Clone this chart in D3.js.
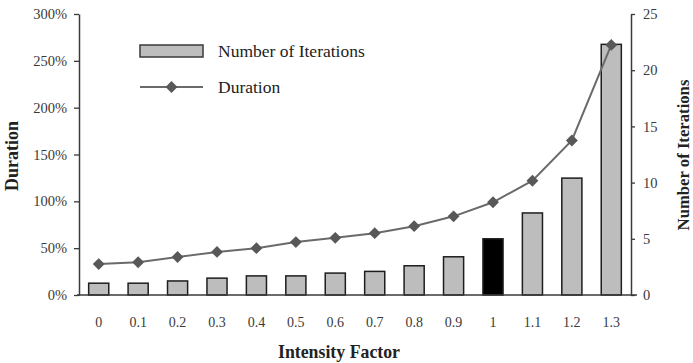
<!DOCTYPE html>
<html>
<head>
<meta charset="utf-8">
<script src="https://cdn.jsdelivr.net/npm/d3@7"></script>
<style>
  body { margin: 0; background: #fff; }
  svg { display: block; font-family: "Liberation Serif", "Times New Roman", serif; }
</style>
</head>
<body>
<svg></svg>
<script>
var width = 693;
var height = 363;

// data
var factors = ["0", "0.1", "0.2", "0.3", "0.4", "0.5", "0.6", "0.7", "0.8", "0.9", "1", "1.1", "1.2", "1.3"];
var iterations = [1.05, 1.05, 1.25, 1.5, 1.7, 1.7, 1.95, 2.1, 2.6, 3.4, 5.0, 7.3, 10.4, 22.3];
var duration = [33, 35, 40.5, 46, 50, 56.5, 61, 66, 73.5, 84, 99, 122, 165, 267];
var durTicks = [0, 50, 100, 150, 200, 250, 300];
var iterTicks = [0, 5, 10, 15, 20, 25];
var highlight = "1";

var plotLeft = 79, plotRight = 631, plotTop = 14, plotBottom = 295;

var svg = d3.select("svg")
  .attr("width", width)
  .attr("height", height);

var x = d3.scaleBand()
  .domain(factors)
  .range([plotLeft, plotRight])
  .paddingInner(0.49)
  .paddingOuter(0.245);

var yDur = d3.scaleLinear().domain([0, 300]).range([plotBottom, plotTop]);
var yIt = d3.scaleLinear().domain([0, 25]).range([plotBottom, plotTop]);

// bars
svg.selectAll("rect.bar")
  .data(iterations)
  .enter()
  .append("rect")
  .attr("class", "bar")
  .attr("x", (d, i) => x(factors[i]))
  .attr("width", x.bandwidth())
  .attr("y", d => yIt(d))
  .attr("height", d => plotBottom - yIt(d))
  .attr("fill", (d, i) => factors[i] === highlight ? "#000" : "#bdbdbd")
  .attr("stroke", "#1e1e1e")
  .attr("stroke-width", 1.5);

// duration line
var line = d3.line()
  .x((d, i) => x(factors[i]) + x.bandwidth() / 2)
  .y(d => yDur(d));

svg.append("path")
  .datum(duration)
  .attr("d", line)
  .attr("fill", "none")
  .attr("stroke", "#6a6a6a")
  .attr("stroke-width", 2);

var diamond = d3.symbol().type(d3.symbolDiamond2).size(90);
svg.selectAll("path.pt")
  .data(duration)
  .enter()
  .append("path")
  .attr("class", "pt")
  .attr("d", diamond)
  .attr("transform", (d, i) => "translate(" + (x(factors[i]) + x.bandwidth() / 2) + "," + yDur(d) + ")")
  .attr("fill", "#585858");

// axes
var leftAxis = svg.append("g")
  .attr("transform", "translate(" + plotLeft + ",0)")
  .call(d3.axisLeft(yDur).tickValues(durTicks)
    .tickFormat(d => d + "%").tickSize(5).tickSizeOuter(0).tickPadding(7));

var rightAxis = svg.append("g")
  .attr("transform", "translate(" + plotRight + ",0)")
  .call(d3.axisRight(yIt).tickValues(iterTicks)
    .tickSize(4).tickSizeOuter(0).tickPadding(8));

[leftAxis, rightAxis].forEach(g => {
  g.select(".domain").attr("stroke", "#3a3a3a").attr("stroke-width", 1.5);
  g.selectAll(".tick line").attr("stroke", "#3a3a3a").attr("stroke-width", 1.3);
  g.selectAll(".tick text")
    .attr("font-family", "Liberation Serif, serif")
    .attr("font-size", 14.5)
    .attr("fill", "#3a3a3a");
});

// baseline
svg.append("line")
  .attr("x1", plotLeft - 2).attr("x2", plotRight + 6)
  .attr("y1", plotBottom).attr("y2", plotBottom)
  .attr("stroke", "#3a3a3a").attr("stroke-width", 1.5);

// x labels
svg.selectAll("text.xl")
  .data(factors)
  .enter()
  .append("text")
  .attr("class", "xl")
  .attr("x", d => x(d) + x.bandwidth() / 2)
  .attr("y", 327)
  .attr("text-anchor", "middle")
  .attr("font-size", 14)
  .attr("fill", "#3a3a3a")
  .text(d => d);

// axis titles
svg.append("text")
  .attr("x", 339).attr("y", 358)
  .attr("text-anchor", "middle")
  .attr("font-size", 17.8).attr("font-weight", "bold").attr("fill", "#222")
  .text("Intensity Factor");

svg.append("text")
  .attr("transform", "translate(18,156) rotate(-90)")
  .attr("text-anchor", "middle")
  .attr("font-size", 18).attr("font-weight", "bold").attr("fill", "#222")
  .text("Duration");

svg.append("text")
  .attr("transform", "translate(689,155) rotate(-90)")
  .attr("text-anchor", "middle")
  .attr("font-size", 16.7).attr("font-weight", "bold").attr("fill", "#222")
  .text("Number of Iterations");

// legend
var legend = svg.append("g");
legend.append("rect")
  .attr("x", 140).attr("y", 45).attr("width", 63).attr("height", 12)
  .attr("fill", "#bdbdbd").attr("stroke", "#3a3a3a").attr("stroke-width", 1.5);
legend.append("text")
  .attr("x", 218).attr("y", 57)
  .attr("font-size", 17.5).attr("fill", "#222")
  .text("Number of Iterations");
legend.append("line")
  .attr("x1", 140).attr("x2", 203).attr("y1", 87).attr("y2", 87)
  .attr("stroke", "#6a6a6a").attr("stroke-width", 2);
legend.append("path")
  .attr("d", diamond)
  .attr("transform", "translate(171.5,87)")
  .attr("fill", "#585858");
legend.append("text")
  .attr("x", 218).attr("y", 93)
  .attr("font-size", 17.5).attr("fill", "#222")
  .text("Duration");
</script>
</body>
</html>
